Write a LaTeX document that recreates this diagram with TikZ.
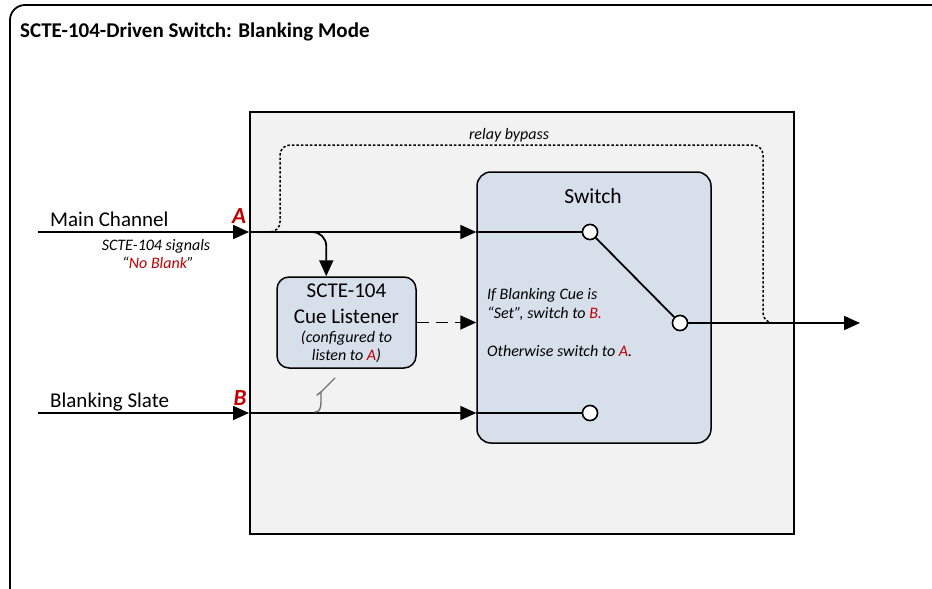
\documentclass[tikz,border=0pt]{standalone}
\usepackage{fontspec}
\setmainfont{Carlito}
\usetikzlibrary{arrows.meta,calc}
\definecolor{boxgray}{HTML}{F2F2F2}
\definecolor{swfill}{HTML}{D6DFEA}
\definecolor{cuered}{HTML}{C00000}
\newcommand{\fsz}[1]{\fontsize{#1}{#1}\selectfont}
\begin{document}
\begin{tikzpicture}[x=1pt,y=-1pt,
 line/.style={line width=1.8pt},
 arr/.style={line, -{Triangle[length=16pt,width=14pt]}},
 pin/.style={circle, draw, fill=white, line width=1.5pt, minimum size=15pt, inner sep=0pt},
 rbox/.style={draw, line width=1.5pt, rounded corners=14pt, fill=swfill, inner sep=0pt},
 txt/.style={inner sep=0pt},
 lbl/.style={txt, font=\fsz{21}},
 note/.style={txt, font=\itshape\fsz{16}},
 port/.style={txt, font=\bfseries\itshape\fsz{23}, text=cuered},
]
\useasboundingbox (0,0) rectangle (932,589);
\clip (0,0) rectangle (932,589);
\fill[white] (0,0) rectangle (932,589);
% outer frame
\draw[line width=1.8pt, rounded corners=15pt] (10,5) rectangle (962,603);
\node[txt, anchor=base west, font=\bfseries\fsz{21}] (title) at (20,37) {SCTE-104-Driven Switch: Blanking Mode};
% processing box
\fill[black!45] (250.5,112.5) rectangle (795,535);
\node[draw, fill=boxgray, line width=1.5pt, minimum width=544pt, minimum height=422pt, inner sep=0pt, anchor=north west] (proc) at (249,111) {};
% switch and cue listener
\node[rbox, minimum width=234pt, minimum height=271pt] (sw) at (594,307.5) {};
\node[rbox, rounded corners=12pt, minimum width=139pt, minimum height=91pt] (cue) at (346.5,322.5) {};
\node[txt, anchor=base, font=\fsz{21.5}] (swt) at (593,203) {Switch};
\node[note, anchor=base west] (n1) at (487,299) {If Blanking Cue is};
\node[note, anchor=base west] (n2) at (487,318) {“Set”, switch to \textcolor{cuered}{B.}};
\node[note, anchor=base west] (n3) at (487,356) {Otherwise switch to \textcolor{cuered}{A}.};
\node[lbl, anchor=base] (c1) at (346.5,297) {SCTE-104};
\node[lbl, anchor=base] (c2) at (346.5,323) {Cue Listener};
\node[note, anchor=base] (c3) at (346.5,342) {(configured to};
\node[note, anchor=base] (c4) at (346.5,360) {listen to \textcolor{cuered}{A})};
% pins
\node[pin] (ca) at (590,232) {};
\node[pin] (cout) at (680,323) {};
\node[pin] (cb) at (590,413) {};
% endpoints
\coordinate (inA) at (38,232);
\coordinate (inB) at (38,413);
\coordinate (out) at (860,323);
\coordinate (br) at (298,232);
\coordinate (cuein) at ([xshift=50pt]cue.north west);
\coordinate (byA) at (262,232);
\coordinate (byOut) at (792,323);
% relay bypass
\draw[line width=1.5pt, dash pattern=on 2.5pt off 2pt, rounded corners=10pt]
  (byA) -| (280,145) -| (763,323) -- (byOut);
\node[txt, anchor=base, font=\itshape\fsz{16}] (rb) at (509,139) {relay bypass};
% main channel A
\draw[arr] (inA) -- (inA -| proc.west);
\draw[arr] (inA -| proc.west) -- (inA -| sw.west);
\draw[line] (inA -| sw.west) -- (ca);
\draw[arr, rounded corners=14pt] (br) -| (cuein);
% blanking slate B
\draw[arr] (inB) -- (inB -| proc.west);
\draw[arr] (inB -| proc.west) -- (inB -| sw.west);
\draw[line] (inB -| sw.west) -- (cb);
% switch
\draw[line] (ca) -- (cout);
\draw[arr] (cout) -- (out);
\node[pin] at (ca) {};
\node[pin] at (cout) {};
\node[pin] at (cb) {};
% cue to switch
\draw[line, dash pattern=on 12pt off 7pt, -{Triangle[length=16pt,width=14pt]}] (cue.east) -- (cue.east -| sw.west);
% gray hook mark
\draw[black!55, line width=1.4pt, line cap=round] (335,378) -- (321,392) -- (321,402) .. controls (321,409) and (319,412) .. (315,412);
\draw[black!55, line width=1.4pt, line cap=round] (317,395) -- (321,392);
% labels
\node[lbl, anchor=base west] (mc) at (50,226) {Main Channel};
\node[lbl, anchor=base west] (bs) at (50,407) {Blanking Slate};
\node[port, anchor=base] (pA) at (239,223) {A};
\node[port, anchor=base] (pB) at (240,405) {B};
\node[txt, anchor=base, font=\itshape\fsz{16}] (sig) at (156,250) {SCTE-104 signals};
\node[txt, anchor=base, font=\itshape\fsz{16}] (nb) at (158,268) {“\textcolor{cuered}{No Blank}”};
\end{tikzpicture}
\end{document}
